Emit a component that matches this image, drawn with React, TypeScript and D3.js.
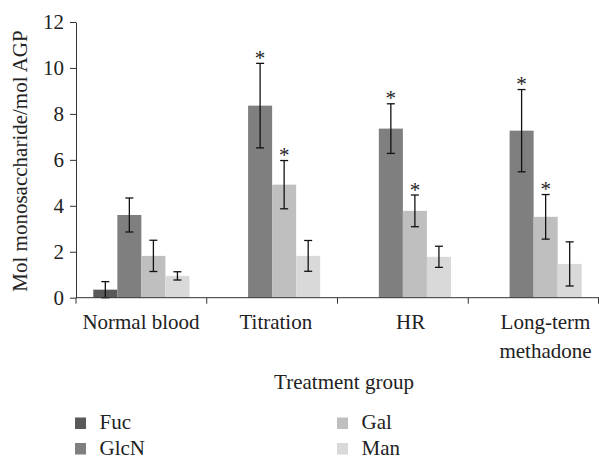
import React, { useRef, useEffect } from "react"
import * as d3 from "d3"

// treatment groups + monosaccharides
const groups = ["Normal blood", "Titration", "HR", "Long-term methadone"]
const groupLines = [["Normal blood"], ["Titration"], ["HR"], ["Long-term", "methadone"]]
const series = ["Fuc", "GlcN", "Gal", "Man"]

// means (null = not detected)
const fuc = [0.35, null, null, null]
const glcn = [3.6, 8.36, 7.36, 7.27]
const gal = [1.82, 4.92, 3.78, 3.52]
const man = [0.95, 1.82, 1.78, 1.47]

// error bars (+/-)
const fucErr = [0.35, null, null, null]
const glcnErr = [0.74, 1.84, 1.08, 1.79]
const galErr = [0.68, 1.05, 0.69, 0.97]
const manErr = [0.18, 0.67, 0.46, 0.96]

// significance stars
const fucSig = [false, false, false, false]
const glcnSig = [false, true, true, true]
const galSig = [false, true, true, true]
const manSig = [false, false, false, false]

const yTicks = [0, 2, 4, 6, 8, 10, 12]
const colors = ["#595959", "#7f7f7f", "#bfbfbf", "#d9d9d9"]

const W = 599, H = 457
const FONT = "Liberation Serif"
const FS = 21

function App() {
  const ref = useRef(null)

  useEffect(() => {
    const svg = d3.select(ref.current)
    svg.selectAll("*").remove()

    const means = [fuc, glcn, gal, man]
    const errs = [fucErr, glcnErr, galErr, manErr]
    const sigs = [fucSig, glcnSig, galSig, manSig]

    const x0 = d3.scaleBand().domain(groups).range([76, 599]).padding(0)
    const x1 = d3.scaleBand().domain(series).range([0, x0.bandwidth()]).paddingInner(0).paddingOuter(0.72)
    const y = d3.scaleLinear().domain([0, 12]).range([297.7, 22])
    // category labels sit on their own spacing in the original
    const xl = d3.scalePoint().domain(groups).range([141, 545.5])

    const rows = []
    groups.forEach((g, gi) => {
      series.forEach((s, si) => {
        const v = means[si][gi]
        if (v == null) return
        rows.push({ g, s, si, v, e: errs[si][gi], sig: sigs[si][gi] })
      })
    })

    // bars
    svg.append("g").selectAll("rect").data(rows).enter().append("rect")
      .attr("x", d => x0(d.g) + x1(d.s))
      .attr("y", d => y(d.v))
      .attr("width", x1.bandwidth())
      .attr("height", d => y(0) - y(d.v))
      .attr("fill", d => colors[d.si])

    // error bars
    const eb = svg.append("g").attr("stroke", "#111").attr("stroke-width", 1.3)
    rows.filter(d => d.e != null).forEach(d => {
      const cx = x0(d.g) + x1(d.s) + x1.bandwidth() / 2
      const top = y(d.v + d.e), bot = y(Math.max(0, d.v - d.e))
      eb.append("line").attr("x1", cx).attr("x2", cx).attr("y1", top).attr("y2", bot)
      eb.append("line").attr("x1", cx - 4).attr("x2", cx + 4).attr("y1", top).attr("y2", top)
      eb.append("line").attr("x1", cx - 4).attr("x2", cx + 4).attr("y1", bot).attr("y2", bot)
    })

    // stars
    rows.filter(d => d.sig).forEach(d => {
      svg.append("text")
        .attr("x", x0(d.g) + x1(d.s) + x1.bandwidth() / 2)
        .attr("y", y(d.v + d.e) + 1.5)
        .attr("text-anchor", "middle")
        .attr("font-family", FONT).attr("font-size", FS).attr("fill", "#222")
        .text("*")
    })

    // y axis
    const yAxis = d3.axisLeft(y).tickValues(yTicks).tickSize(6).tickSizeOuter(0).tickPadding(6)
    const ya = svg.append("g").attr("transform", "translate(76,0)").call(yAxis)
    ya.attr("font-family", FONT).attr("font-size", FS)
    ya.selectAll("path,line").attr("stroke", "#333")
    ya.selectAll("text").attr("fill", "#222")

    // x axis: line + ticks at band edges
    const xa = svg.append("g").attr("stroke", "#333")
    xa.append("line").attr("x1", 76).attr("x2", 599).attr("y1", y(0)).attr("y2", y(0))
    const edges = groups.map(g => x0(g)).concat([x0.range()[1] - 0.5])
    edges.forEach(e => {
      xa.append("line").attr("x1", e).attr("x2", e).attr("y1", y(0)).attr("y2", y(0) + 6)
    })

    // category labels
    groups.forEach((g, gi) => {
      groupLines[gi].forEach((ln, li) => {
        svg.append("text").attr("text-anchor", "middle")
          .attr("x", xl(g)).attr("y", 328.5 + li * 29)
          .attr("font-family", FONT).attr("font-size", FS).attr("fill", "#222")
          .text(ln)
      })
    })

    // axis titles
    svg.append("text").attr("x", 344).attr("y", 388.5).attr("text-anchor", "middle")
      .attr("font-family", FONT).attr("font-size", FS).attr("fill", "#222")
      .text("Treatment group")
    svg.append("text").attr("transform", "translate(27,161) rotate(-90)").attr("text-anchor", "middle")
      .attr("font-family", FONT).attr("font-size", FS).attr("fill", "#222")
      .text("Mol monosaccharide/mol AGP")

    // legend, two columns
    series.forEach((s, i) => {
      const col = Math.floor(i / 2), row = i % 2
      const lx = col === 0 ? 75 : 337
      const ly = 429 + row * 25.5
      svg.append("rect").attr("x", lx).attr("y", ly - 11.5).attr("width", 11).attr("height", 11.5).attr("fill", colors[i])
      svg.append("text").attr("x", lx + 24.5).attr("y", ly)
        .attr("font-family", FONT).attr("font-size", FS).attr("fill", "#222")
        .text(s)
    })
  }, [])

  return (
    <svg ref={ref} width={W} height={H} fontFamily={FONT} style={{ position: "absolute", left: 0, top: 0, background: "#fff" }}></svg>
  )
}

export default App
